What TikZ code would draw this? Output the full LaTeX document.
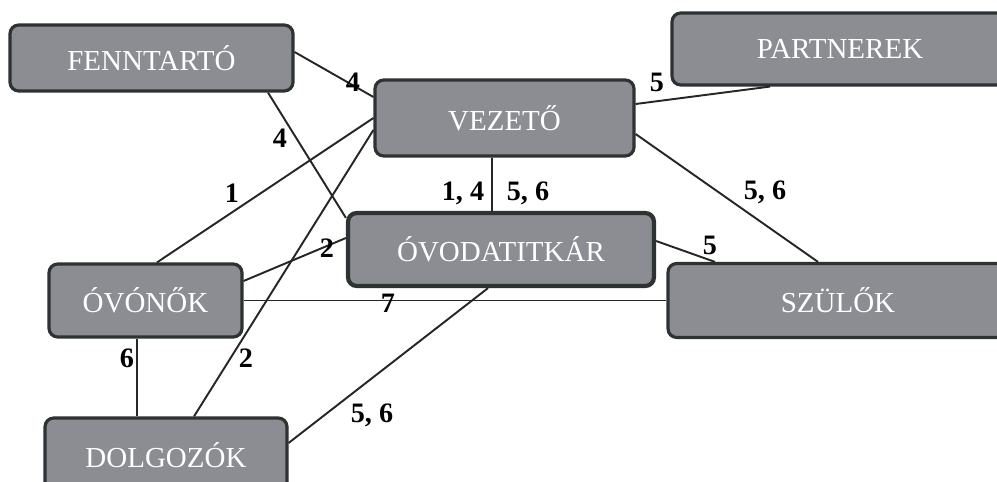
\documentclass[tikz,border=0pt]{standalone}
\usepackage{fontspec}
\setmainfont{Liberation Serif}
\usepackage{tikz}
\usetikzlibrary{positioning,calc}
\usepackage{xcolor}
\definecolor{boxgray}{RGB}{140,141,146}
\definecolor{boxline}{RGB}{45,50,50}

\begin{document}
\begin{tikzpicture}[
    unit/.style={
        rectangle, draw=boxline, fill=boxgray, line width=1.8pt,
        rounded corners=5pt, inner sep=0pt,
        font=\fontsize{16.5}{18}\selectfont, text=white
    },
    num/.style={font=\fontsize{16}{18}\selectfont\bfseries, inner sep=1pt},
    link/.style={line width=1.1pt, draw=black!85}
]

% Frame
\useasboundingbox (0,0) rectangle (19.94,9.64);
\clip (0,0) rectangle (19.94,9.64);

% Units
\node[unit, minimum width=5.66cm, minimum height=1.32cm] (fenntarto) at (3.03,8.48) {FENNTARTÓ};
\node[unit, minimum width=5.18cm, minimum height=1.52cm] (vezeto) at (10.09,7.28) {VEZETŐ};
\node[unit, minimum width=6.72cm, minimum height=1.44cm] (partnerek) at (16.8,8.66) {PARTNEREK};
\node[unit, minimum width=6.12cm, minimum height=1.46cm, line width=2.4pt] (titkar) at (10.02,4.65) {ÓVODATITKÁR};
\node[unit, minimum width=3.86cm, minimum height=1.46cm] (ovonok) at (2.91,3.63) {ÓVÓNŐK};
\node[unit, minimum width=6.8cm, minimum height=1.48cm] (szulok) at (16.76,3.63) {SZÜLŐK};
\node[unit, minimum width=4.84cm, minimum height=1.48cm] (dolgozok) at (3.32,0.54) {DOLGOZÓK};

% Links
\draw[link] ([yshift=0.12cm]fenntarto.east) -- ([yshift=0.42cm]vezeto.west);
\draw[link] ([xshift=2.33cm]fenntarto.south) -- ([yshift=-0.14cm]titkar.north west);
\draw[link] (vezeto.west) -- ([xshift=0.23cm]ovonok.north);
\draw[link] ([yshift=-0.24cm]vezeto.west) -- ([xshift=0.56cm]dolgozok.north);
\draw[link] ([xshift=-0.25cm]vezeto.south) -- ([xshift=-0.18cm]titkar.north);
\draw[link] ([yshift=0.28cm]vezeto.east) -- ([xshift=-1.4cm]partnerek.south);
\draw[link] ([yshift=-0.32cm]vezeto.east) -- ([xshift=-0.4cm]szulok.north);
\draw[link] ([yshift=0.17cm]titkar.east) -- ([xshift=-2.46cm]szulok.north);
\draw[link] ([yshift=0.39cm]ovonok.east) -- ([yshift=0.23cm]titkar.west);
\draw[link] (ovonok.east) -- (ovonok.east -| szulok.west);
\draw[link] ([xshift=-0.17cm]ovonok.south) -- ([xshift=-0.58cm]dolgozok.north);
\draw[link] ([xshift=-0.26cm]titkar.south) -- ([yshift=0.24cm]dolgozok.east);

% Link numbers
\node[num] (n1) at (7.06,8.00) {4};
\node[num] (n2) at (5.60,6.88) {4};
\node[num] (n3) at (4.64,5.78) {1};
\node[num] (n4) at (9.26,5.78) {1, 4};
\node[num] (n5) at (10.56,5.78) {5, 6};
\node[num] (n6) at (13.14,8.00) {5};
\node[num] (n7) at (15.30,5.80) {5, 6};
\node[num] (n8) at (14.20,4.74) {5};
\node[num] (n9) at (6.54,4.68) {2};
\node[num] (n10) at (7.76,3.58) {7};
\node[num] (n11) at (2.54,2.48) {6};
\node[num] (n12) at (4.92,2.48) {2};
\node[num] (n13) at (7.44,1.34) {5, 6};

\end{tikzpicture}
\end{document}
